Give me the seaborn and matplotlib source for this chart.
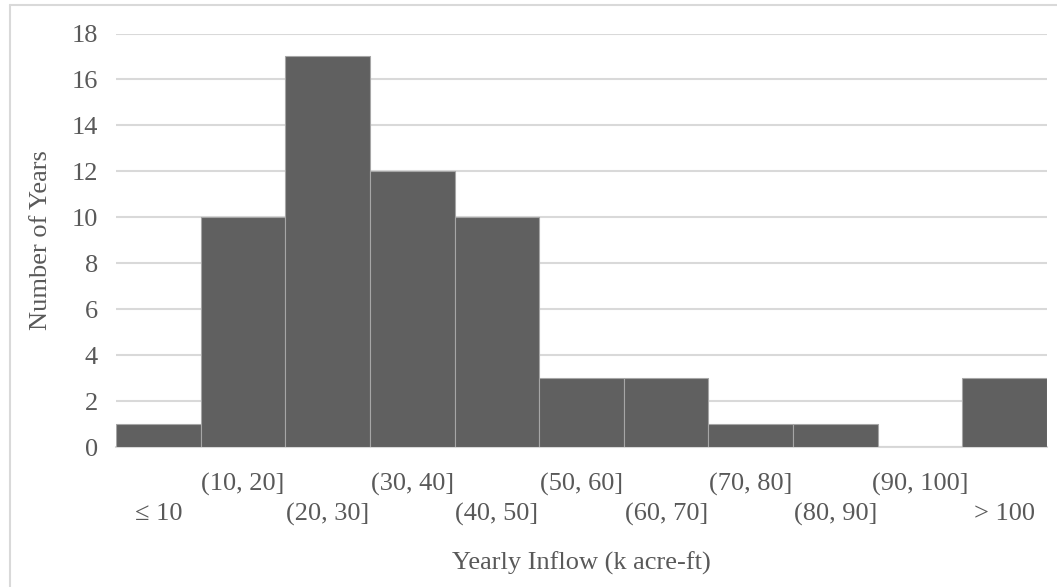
import matplotlib
matplotlib.use("Agg")
import matplotlib.pyplot as plt
from matplotlib.lines import Line2D
import seaborn as sns
import pandas as pd

# Histogram of yearly inflow
bins = ["\u2264 10", "(10, 20]", "(20, 30]", "(30, 40]", "(40, 50]", "(50, 60]",
        "(60, 70]", "(70, 80]", "(80, 90]", "(90, 100]", "> 100"]
counts = [1, 10, 17, 12, 10, 3, 3, 1, 1, 0, 3]
y_ticks = [0, 2, 4, 6, 8, 10, 12, 14, 16, 18]

sns.set_theme(style="white")
plt.rcParams["font.family"] = ["Liberation Serif", "DejaVu Serif"]

TEXT = "#595959"
GRID = "#d9d9d9"
FS = 19

W, H = 1057, 587
AX_L, AX_R, AX_T, AX_B = 116, 1047, 33.5, 447  # plot area in pixels
fig = plt.figure(figsize=(W / 100, H / 100), dpi=100)
ax = fig.add_axes([AX_L / W, 1 - AX_B / H, (AX_R - AX_L) / W, (AX_B - AX_T) / H])


def below_axis(ypix):
    """Axes-fraction y for a pixel row under the plot area."""
    return (AX_B - ypix) / (AX_B - AX_T)


df = pd.DataFrame({"bin": bins, "count": counts})
sns.barplot(data=df, x="bin", y="count", ax=ax, color="#606060", width=1.0,
            saturation=1, edgecolor="#a6a6a6", linewidth=0.8, zorder=3)

ax.set_xlim(-0.5, len(bins) - 0.5)
ax.set_ylim(0, 18)
ax.set_yticks(y_ticks)
ax.set_yticklabels([str(v) for v in y_ticks], fontsize=FS, color=TEXT)
ax.yaxis.grid(True, color=GRID, linewidth=1.5, zorder=0)
ax.set_axisbelow(True)
ax.tick_params(axis="y", length=0, pad=13)

# staggered category labels: odd bins on the upper row, even bins on the lower row
ax.set_xticks(range(len(bins)))
ax.set_xticklabels([])
ax.tick_params(axis="x", length=0)
xt = ax.get_xaxis_transform()
for i, b in enumerate(bins):
    row_y = below_axis(514) if i % 2 == 0 else below_axis(484)
    ax.text(i, row_y, b, transform=xt, ha="center", va="center",
            fontsize=FS, color=TEXT)

for side in ["top", "right", "left"]:
    ax.spines[side].set_visible(False)
ax.spines["bottom"].set_color(GRID)
ax.spines["bottom"].set_linewidth(1.5)

ax.set_xlabel("Yearly Inflow (k acre-ft)", fontsize=FS, color=TEXT, va="center")
ax.xaxis.set_label_coords(0.5, below_axis(563))
ax.set_ylabel("Number of Years", fontsize=FS, color=TEXT, va="center")
ax.yaxis.set_label_coords((41 - AX_L) / (AX_R - AX_L), 0.5)

# light frame around the chart area
fig.add_artist(Line2D([10 / W, 10 / W], [0, 1 - 4.5 / H], transform=fig.transFigure,
                      color=GRID, linewidth=1.5))
fig.add_artist(Line2D([10 / W, 1], [1 - 4.5 / H, 1 - 4.5 / H], transform=fig.transFigure,
                      color=GRID, linewidth=1.5))

fig.savefig("out.png", dpi=100)
